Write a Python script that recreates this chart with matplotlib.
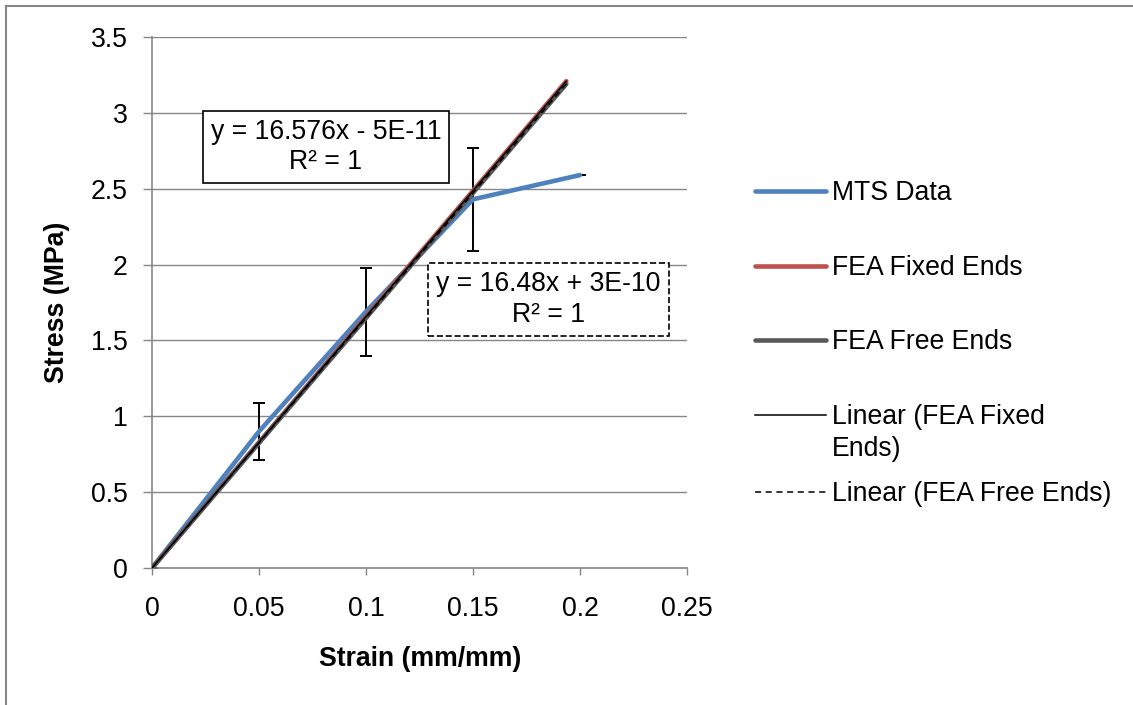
import matplotlib
matplotlib.use('Agg')
import numpy as np
import matplotlib.pyplot as plt
from matplotlib.lines import Line2D
from matplotlib.ticker import FuncFormatter

# Datos
mts_strain = [0, 0.05, 0.1, 0.15, 0.2]
mts_stress = [0, 0.90, 1.69, 2.43, 2.59]
mts_error = [0, 0.19, 0.29, 0.34, 0]

fea_strain = [0, 0.0484, 0.0968, 0.1452, 0.1936]
fea_fixed_stress = [0, 0.802, 1.605, 2.407, 3.209]
fea_free_stress = [0, 0.798, 1.595, 2.393, 3.190]

x_ticks = [0, 0.05, 0.1, 0.15, 0.2, 0.25]
y_ticks = [0, 0.5, 1, 1.5, 2, 2.5, 3, 3.5]

fixed_label = "y = 16.576x - 5E-11\nR² = 1"
free_label = "y = 16.48x + 3E-10\nR² = 1"

plt.rcParams['font.family'] = ['Liberation Sans', 'DejaVu Sans']
FS = 19.2
GRID = '#868686'

fig = plt.figure(figsize=(11.33, 7.05), dpi=100)
W, H = 1133, 705
ax = fig.add_axes([152 / W, 1 - 568 / H, (687 - 152) / W, (568 - 37) / H])

# Barras de error (debajo de las lineas)
ax.errorbar(mts_strain, mts_stress, yerr=mts_error, fmt='none',
            ecolor='black', elinewidth=1.4, capsize=4, capthick=1.4,
            zorder=2)

line_mts, = ax.plot(mts_strain, mts_stress, color='#4F81BD', lw=3.3,
                    solid_capstyle='round', zorder=3)
line_fixed, = ax.plot(fea_strain, fea_fixed_stress, color='#C0504D', lw=3.3,
                      solid_capstyle='round', zorder=4)
line_free, = ax.plot(fea_strain, fea_free_stress, color='#595959', lw=3.3,
                     solid_capstyle='round', zorder=5)

# Lineas de tendencia
fit_fixed = np.polyfit(fea_strain, fea_fixed_stress, 1)
fit_free = np.polyfit(fea_strain, fea_free_stress, 1)
xs = np.array([fea_strain[0], fea_strain[-1]])
trend_fixed, = ax.plot(xs, np.polyval(fit_fixed, xs), color='black', lw=1.1,
                       zorder=6)
trend_free, = ax.plot(xs, np.polyval(fit_free, xs), color='black', lw=1.1,
                      ls=(0, (4, 3)), zorder=7)

ax.set_xlim(0, 0.25)
ax.set_ylim(0, 3.5)
ax.set_xticks(x_ticks)
ax.set_yticks(y_ticks)
fmt = FuncFormatter(lambda v, p: '%g' % v)
ax.xaxis.set_major_formatter(fmt)
ax.yaxis.set_major_formatter(fmt)
ax.tick_params(axis='y', length=6.5, width=1, color=GRID, pad=11,
               labelsize=FS)
ax.tick_params(axis='x', length=5, width=1, color=GRID, pad=15.5,
               labelsize=FS)
ax.grid(axis='y', color=GRID, lw=1)
ax.set_axisbelow(True)
for s in ['top', 'right']:
    ax.spines[s].set_visible(False)
for s in ['left', 'bottom']:
    ax.spines[s].set_color(GRID)
    ax.spines[s].set_linewidth(1.2)

ax.set_xlabel('Strain (mm/mm)', fontsize=FS, fontweight='bold',
              va='center')
ax.xaxis.set_label_coords(0.501, (568 - 659) / 531)
ax.set_ylabel('Stress (MPa)', fontsize=FS, fontweight='bold',
              va='center')
ax.yaxis.set_label_coords((57.5 - 152) / 535, 0.5)

# Ecuaciones de ajuste
ax.text(0.0813, 2.775, fixed_label, fontsize=FS, ha='center', va='center',
        multialignment='center', linespacing=1.22, zorder=8,
        bbox=dict(boxstyle='square,pad=0.3', fc='white', ec='black', lw=1.2))
ax.text(0.1853, 1.770, free_label, fontsize=FS, ha='center', va='center',
        multialignment='center', linespacing=1.22, zorder=8,
        bbox=dict(boxstyle='square,pad=0.3', fc='white', ec='black', lw=1.2,
                  ls='--'))

# Leyenda, una entrada por posicion
entries = [
    (line_mts, 'MTS Data', 193),
    (line_fixed, 'FEA Fixed Ends', 268),
    (line_free, 'FEA Free Ends', 342),
    (trend_fixed, 'Linear (FEA Fixed', 417),
    (trend_free, 'Linear (FEA Free Ends)', 494),
]
for handle, label, ypix in entries:
    leg = fig.legend([handle], [label], loc='center left',
                     bbox_to_anchor=(755 / W, 1 - ypix / H), frameon=False,
                     fontsize=FS, handlelength=2.67, handletextpad=0.2,
                     borderpad=0, borderaxespad=0)
fig.text(832 / W, 1 - 449 / H, 'Ends)', fontsize=FS, ha='left', va='center')

# Borde del area del grafico
fig.add_artist(Line2D([6 / W, 6 / W], [0, 1 - 6 / H], transform=fig.transFigure,
                      color=GRID, lw=1.5))
fig.add_artist(Line2D([6 / W, 1], [1 - 6 / H, 1 - 6 / H],
                      transform=fig.transFigure, color=GRID, lw=1.5))

fig.savefig('out.png', dpi=100)
plt.close(fig)
